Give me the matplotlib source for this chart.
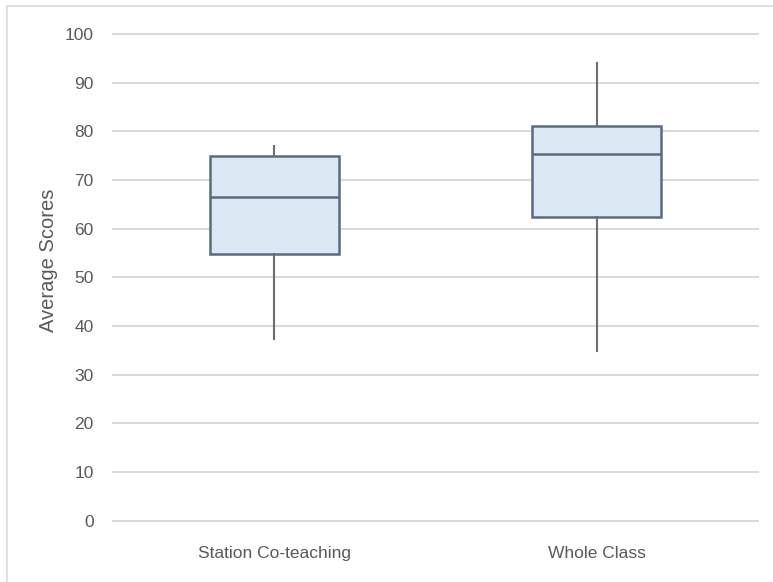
import matplotlib.pyplot as plt
from matplotlib.patches import Rectangle

# five-number summaries per group
groups = ['Station Co-teaching', 'Whole Class']
whisker_low = [37.3, 34.8]
q1 = [54.7, 62.5]
median = [66.6, 75.3]
q3 = [74.9, 81.0]
whisker_high = [77.0, 94.0]
y_ticks = list(range(0, 101, 10))

txt = '#595959'
plt.rcParams['font.family'] = ['Liberation Sans', 'DejaVu Sans']

fig = plt.figure(figsize=(7.73, 5.82), dpi=100)
ax = fig.add_axes([0.1462, 0.1053, 0.8344, 0.8363])

stats = []
for i, g in enumerate(groups):
    stats.append(dict(label=g, whislo=whisker_low[i], q1=q1[i], med=median[i],
                      q3=q3[i], whishi=whisker_high[i], fliers=[]))

ax.bxp(stats, positions=[1, 2], widths=0.40, showcaps=False, patch_artist=True,
       boxprops=dict(facecolor='#dde8f5', edgecolor='#5b6a82', linewidth=1.8),
       medianprops=dict(color='#5b6a82', linewidth=1.8),
       whiskerprops=dict(color='#6e6e6e', linewidth=1.5), zorder=3)

ax.set_xlim(0.5, 2.5)
ax.set_ylim(0, 100)
ax.set_yticks(y_ticks)
ax.set_yticklabels([str(t) for t in y_ticks], fontsize=12.5, color=txt)
ax.set_xticklabels(groups, fontsize=12.5, color=txt)
ax.tick_params(axis='both', length=0)
ax.tick_params(axis='y', pad=14)
ax.tick_params(axis='x', pad=18)
ax.yaxis.grid(True, color='#d9d9d9', linewidth=1.4, zorder=0)
for gl in ax.get_ygridlines():
    gl.set_clip_on(False)
ax.set_axisbelow(True)
for s in ax.spines.values():
    s.set_visible(False)

ax.set_ylabel('Average Scores', fontsize=14.5, color=txt)
ax.yaxis.set_label_coords(-0.085, 0.534)

# light frame around the chart area
fig.patches.append(Rectangle((7 / 773, -0.01), 1.0, 1 - 6 / 582 + 0.01,
                             transform=fig.transFigure, fill=False,
                             edgecolor='#d9d9d9', linewidth=1.2))

fig.savefig('out.png', dpi=100)
